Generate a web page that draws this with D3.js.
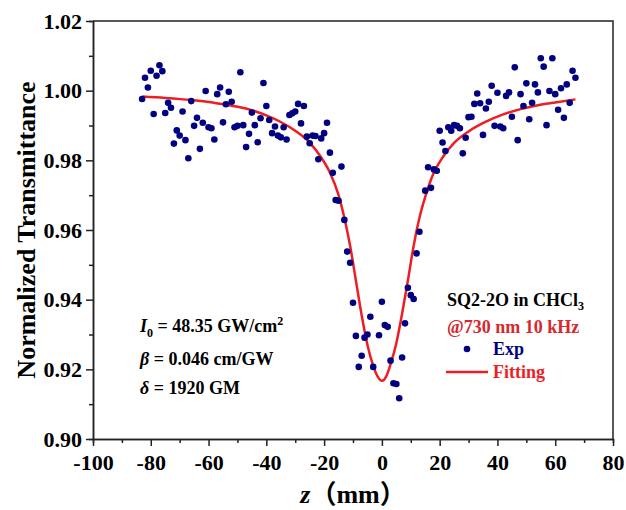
<!DOCTYPE html>
<html>
<head>
<meta charset="utf-8">
<script src="https://cdn.jsdelivr.net/npm/d3@7"></script>
<style>
	body { margin: 0; background: #fff; }
	svg text { font-family: "Times New Roman", "Liberation Serif", "Noto Sans CJK SC", serif; font-weight: bold; }
</style>
</head>
<body>
<div id="chart"></div>
<script>
// measured points (z in mm, normalized transmittance)
const expZ = [-83, -82, -81, -80, -79, -78, -77, -76, -75, -74, -73, -72, -71, -70, -69, -68, -67, -66, -65, -64,
	-63, -62, -61, -60, -59, -58, -57, -56, -55, -54, -53, -52, -51, -50, -49, -48, -47, -46, -45, -44,
	-43, -42, -41, -40, -39, -38, -37, -36, -35, -34, -33, -32, -31, -30, -29, -28, -27, -26, -25, -24,
	-23, -22, -21, -20, -19, -18, -17, -16, -15, -14, -13, -12, -11, -10, -9, -8, -7, -6, -5, -4,
	-3, -1, 0, 1, 2, 3, 4, 5, 6, 7, 8, 9, 10, 11, 12, 13, 15, 16, 17, 18,
	19, 20, 21, 22, 23, 24, 25, 26, 27, 28, 29, 30, 31, 32, 33, 34, 35, 36, 37, 38,
	39, 40, 41, 42, 43, 44, 45, 46, 47, 48, 49, 50, 51, 52, 53, 54, 55, 56, 57, 58,
	59, 60, 61, 62, 63, 64, 65, 66, 67];
const expT = [0.9976, 1.0037, 1.0009, 1.0057, 0.9933, 1.0043, 1.0073, 1.0056, 0.9936, 0.9965, 0.9951, 0.9848, 0.9886, 0.9871, 0.9940, 0.9858, 0.9806, 0.9970, 0.9899, 0.9922,
	0.9833, 0.9908, 0.9999, 0.9895, 0.9892, 0.9860, 0.9990, 1.0009, 0.9909, 0.9961, 0.9997, 0.9968, 0.9895, 0.9899, 1.0053, 0.9901, 0.9838, 0.9876, 0.9937, 0.9901,
	0.9852, 0.9921, 1.0022, 0.9956, 0.9916, 0.9878, 0.9897, 0.9871, 0.9866, 0.9895, 0.9860, 0.9930, 0.9935, 0.9940, 0.9962, 0.9906, 0.9956, 0.9868, 0.9849, 0.9871,
	0.9870, 0.9803, 0.9863, 0.9878, 0.9908, 0.9822, 0.9764, 0.9686, 0.9684, 0.9782, 0.9629, 0.9538, 0.9506, 0.9391, 0.9296, 0.9207, 0.9239, 0.9291, 0.9300, 0.9351,
	0.9207, 0.9298, 0.9394, 0.9327, 0.9322, 0.9225, 0.9160, 0.9158, 0.9117, 0.9234, 0.9332, 0.9434, 0.9413, 0.9402, 0.9533, 0.9595, 0.9713, 0.9780, 0.9721, 0.9774,
	0.9770, 0.9885, 0.9851, 0.9827, 0.9895, 0.9885, 0.9901, 0.9899, 0.9892, 0.9820, 0.9865, 0.9924, 0.9925, 0.9962, 0.9992, 0.9964, 0.9873, 0.9949, 0.9968, 1.0014,
	0.9899, 0.9994, 0.9897, 0.9892, 0.9985, 0.9995, 0.9925, 1.0067, 0.9858, 0.9990, 0.9956, 1.0021, 0.9918, 0.9965, 1.0018, 0.9995, 1.0093, 1.0069, 0.9901, 0.9999,
	1.0093, 0.9990, 0.9945, 1.0007, 0.9922, 1.0018, 0.9965, 1.0057, 1.0037];

// fitted curve
const fitZ = [-83, -75, -66, -58, -50, -45, -40, -35, -30, -25, -21, -18, -15, -13, -11, -9, -7, -5, -3, -1.5,
	0, 1.5, 3, 5, 7, 9, 11, 13, 15, 18, 21, 25, 30, 36, 42, 48, 54, 60, 67];
const fitT = [0.9983, 0.9979, 0.9973, 0.9965, 0.9954, 0.9944, 0.9929, 0.9910, 0.9885, 0.9851, 0.9808, 0.9765, 0.9700, 0.9635, 0.9555, 0.9455, 0.9355, 0.9270, 0.9210, 0.9180,
	0.9167, 0.9180, 0.9215, 0.9275, 0.9360, 0.9455, 0.9555, 0.9635, 0.9695, 0.9765, 0.9808, 0.9850, 0.9883, 0.9911, 0.9932, 0.9947, 0.9958, 0.9966, 0.9975];

const xTicks = [-100, -80, -60, -40, -20, 0, 20, 40, 60, 80];
const xMinor = [-90, -70, -50, -30, -10, 10, 30, 50, 70];
const yTicks = [0.90, 0.92, 0.94, 0.96, 0.98, 1.00, 1.02];
const yMinor = [0.91, 0.93, 0.95, 0.97, 0.99, 1.01];

const width = 626, height = 510;
const margins = { top: 21, left: 93, right: 13, bottom: 71 };
const innerW = width - margins.left - margins.right;
const innerH = height - margins.top - margins.bottom;

let svg = d3.select('#chart').append('svg')
	.attr('width', width)
	.attr('height', height);

let xScale = d3.scaleLinear().domain([-100, 80]).range([0, innerW]);
let yScale = d3.scaleLinear().domain([0.90, 1.02]).range([innerH, 0]);

let g = svg.append('g')
	.attr('transform', `translate(${margins.left},${margins.top})`);

// frame (top + right)
g.append('path')
	.attr('d', `M0,0H${innerW}V${innerH}`)
	.attr('fill', 'none')
	.attr('stroke', '#222')
	.attr('stroke-width', 1.5);

// minor ticks first
g.append('g')
	.attr('transform', `translate(0,${innerH})`)
	.call(d3.axisBottom(xScale).tickValues(xMinor).tickSize(4).tickFormat(''));
g.append('g')
	.call(d3.axisLeft(yScale).tickValues(yMinor).tickSize(4).tickFormat(''));

let gX = g.append('g')
	.attr('class', 'x axis')
	.attr('transform', `translate(0,${innerH})`)
	.call(d3.axisBottom(xScale).tickValues(xTicks).tickSizeInner(7).tickSizeOuter(0).tickPadding(8)
		.tickFormat(d => String(d)));
gX.selectAll('text').attr('font-size', '22px').attr('fill', '#000');

let gY = g.append('g')
	.attr('class', 'y axis')
	.call(d3.axisLeft(yScale).tickValues(yTicks).tickSizeInner(7).tickSizeOuter(0).tickPadding(4)
		.tickFormat(d => d.toFixed(2)));
gY.selectAll('text').attr('font-size', '22px').attr('fill', '#000');

g.selectAll('.domain, .tick line').attr('stroke', '#222').attr('stroke-width', 1.5);

// axis titles
svg.append('text')
	.attr('transform', `translate(35,${margins.top + innerH / 2}) rotate(-90)`)
	.attr('text-anchor', 'middle')
	.attr('font-size', '26px')
	.text('Normalized Transmittance');

let xt = svg.append('text')
	.attr('x', margins.left + xScale(-10))
	.attr('y', 503)
	.attr('text-anchor', 'middle')
	.attr('font-size', '26px');
xt.append('tspan').attr('font-style', 'italic').text('z');
xt.append('tspan').text('（mm）');

// fitted line
let line = d3.line()
	.x((d, i) => xScale(fitZ[i]))
	.y(d => yScale(d))
	.curve(d3.curveMonotoneX);
g.append('path')
	.datum(fitT)
	.attr('d', line)
	.attr('fill', 'none')
	.attr('stroke', '#ee1d23')
	.attr('stroke-width', 2.5);

// points
g.selectAll('circle.exp')
	.data(expT)
	.enter()
	.append('circle')
	.attr('class', 'exp')
	.attr('cx', (d, i) => xScale(expZ[i]))
	.attr('cy', d => yScale(d))
	.attr('r', 3.3)
	.attr('fill', '#000080');

// parameters
let p1 = svg.append('text').attr('x', 140).attr('y', 332).attr('font-size', '18px');
p1.append('tspan').attr('font-style', 'italic').text('I');
p1.append('tspan').attr('font-size', '12px').attr('dy', 5).text('0');
p1.append('tspan').attr('dy', -5).text(' = 48.35 GW/cm');
p1.append('tspan').attr('font-size', '12px').attr('dy', -7).text('2');

let p2 = svg.append('text').attr('x', 140).attr('y', 365).attr('font-size', '18px');
p2.append('tspan').attr('font-style', 'italic').text('β');
p2.append('tspan').text(' = 0.046 cm/GW');

let p3 = svg.append('text').attr('x', 140).attr('y', 394).attr('font-size', '18px');
p3.append('tspan').attr('font-style', 'italic').text('δ');
p3.append('tspan').text(' = 1920 GM');

// legend
let l1 = svg.append('text').attr('x', 447).attr('y', 306).attr('font-size', '18px').attr('fill', '#000');
l1.append('tspan').text('SQ2-2O in CHCl');
l1.append('tspan').attr('font-size', '12px').attr('dy', 4).text('3');

svg.append('text').attr('x', 447).attr('y', 333).attr('font-size', '18px')
	.attr('fill', '#d6282d').text('@730 nm 10 kHz');

svg.append('circle').attr('cx', 467).attr('cy', 349).attr('r', 3.3).attr('fill', '#000080');
svg.append('text').attr('x', 493).attr('y', 355).attr('font-size', '18px')
	.attr('fill', '#000080').text('Exp');

svg.append('line').attr('x1', 446).attr('x2', 488).attr('y1', 372).attr('y2', 372)
	.attr('stroke', '#ee1d23').attr('stroke-width', 2.5);
svg.append('text').attr('x', 493).attr('y', 378).attr('font-size', '18px')
	.attr('fill', '#ee1d23').text('Fitting');
</script>
</body>
</html>
